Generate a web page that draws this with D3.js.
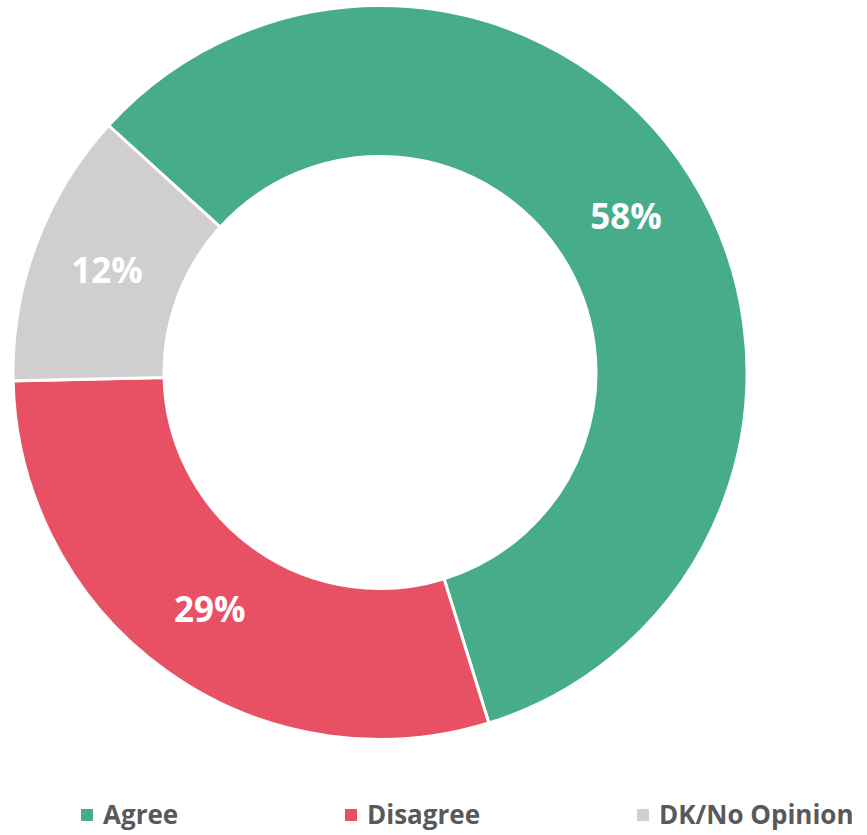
<!DOCTYPE html>
<html>
<head>
<meta charset="utf-8">
<script src="https://cdn.jsdelivr.net/npm/d3@7"></script>
<style>
  body { margin: 0; background: #fff; }
  svg text { font-family: "Open Sans", sans-serif; font-weight: bold; }
</style>
</head>
<body>
<div id="chart"></div>
<script>
var categories = ["Agree", "Disagree", "DK/No Opinion"],
    values = [58.4, 29.4, 12.1],
    labels = ["58%", "29%", "12%"],
    colors = ["#46AC8A", "#E85163", "#D0CECE"];

var width = 867, height = 835,
    cx = 380, cy = 372.5,
    outerR = 367, innerR = 216;

var svg = d3.select("#chart").append("svg")
    .attr("width", width)
    .attr("height", height);

var data = categories.map(function(c, i) {
    return {name: c, value: values[i], label: labels[i], color: colors[i]};
});

// first slice starts a bit left of 12 o'clock, like the original
var start = -47.7 * Math.PI / 180;

var pie = d3.pie()
    .sort(null)
    .value(function(d) { return d.value; })
    .startAngle(start)
    .endAngle(start + 2 * Math.PI);

var arc = d3.arc()
    .innerRadius(innerR)
    .outerRadius(outerR);

var g = svg.append("g")
    .attr("transform", "translate(" + cx + "," + cy + ")");

var slices = g.selectAll("g.slice")
    .data(pie(data))
    .enter().append("g")
    .attr("class", "slice");

slices.append("path")
    .attr("d", arc)
    .attr("fill", function(d) { return d.data.color; })
    .attr("stroke", "#fff")
    .attr("stroke-width", 3);

slices.append("text")
    .attr("transform", function(d) { return "translate(" + arc.centroid(d) + ")"; })
    .attr("text-anchor", "middle")
    .attr("dy", "0.36em")
    .attr("fill", "#fff")
    .style("font-size", "35px")
    .text(function(d) { return d.data.label; });

// legend
var legendOffsets = [81, 345, 637];

var legend = svg.append("g")
    .attr("class", "legend")
    .selectAll("g")
    .data(data)
    .enter().append("g")
    .attr("transform", function(d, i) { return "translate(" + legendOffsets[i] + ",815)"; });

legend.append("rect")
    .attr("x", 0)
    .attr("y", -6)
    .attr("width", 12)
    .attr("height", 12)
    .attr("fill", function(d) { return d.color; });

legend.append("text")
    .attr("x", 22)
    .attr("dy", "0.36em")
    .attr("fill", "#595959")
    .style("font-size", "26px")
    .text(function(d) { return d.name; });
</script>
</body>
</html>
